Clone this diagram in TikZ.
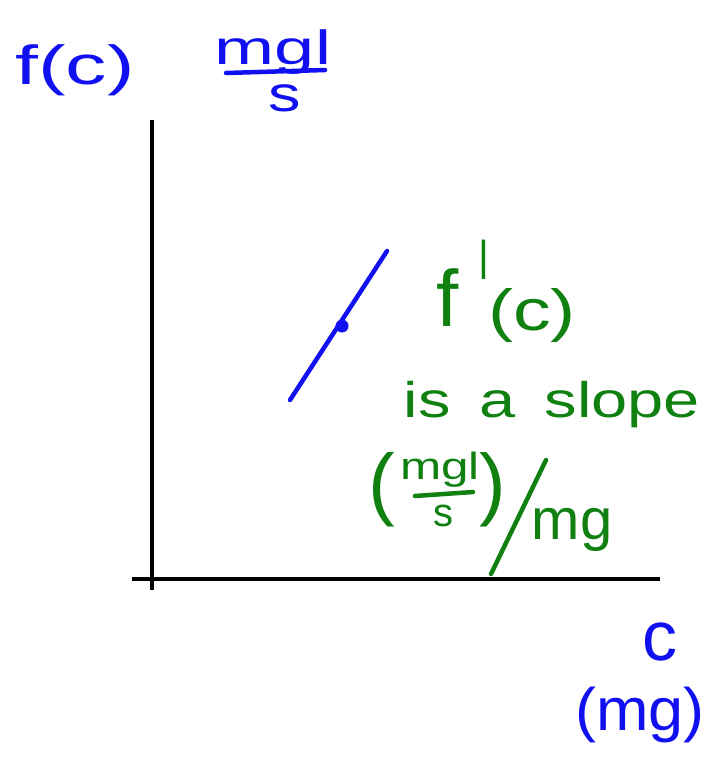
\documentclass[tikz,border=0pt]{standalone}
\usepackage{fontspec}
\setmainfont{Liberation Sans}
\definecolor{inkblue}{RGB}{16,16,240}
\definecolor{inkgreen}{RGB}{16,128,16}
\tikzset{
  axis/.style={draw=black, line width=3.5pt},
  bluetxt/.style={text=inkblue, inner sep=0pt},
  greentxt/.style={text=inkgreen, inner sep=0pt},
  bluestroke/.style={draw=inkblue, line width=4.5pt, line cap=round},
  greenstroke/.style={draw=inkgreen, line width=4.5pt, line cap=round},
}
\newcommand{\fs}[1]{\fontsize{#1}{#1}\selectfont}
\begin{document}
\begin{tikzpicture}[x=1pt,y=-1pt]
\useasboundingbox (0,0) rectangle (709,765);
% axes
\coordinate (ytop) at (152,120);
\coordinate (ybot) at (152,590);
\coordinate (xl) at (132,579);
\coordinate (xr) at (660,579);
\draw[axis] (ybot) -- (ytop);
\draw[axis] (xl) -- (xr);
% axis labels (blue)
\node[bluetxt] (fc) at (75,70) {\fs{55}\scalebox{1.5}[1]{f(c)}};
\node[bluetxt] (num) at (273,52) {\fs{48}\scalebox{1.5}[1]{mgl}};
\coordinate (barl) at (226,73);
\coordinate (barr) at (325,70);
\draw[bluestroke] (barl) -- (barr);
\node[bluetxt] (den) at (285,98) {\fs{50}\scalebox{1.3}[1]{s}};
\node[bluetxt] (cx) at (660,642) {\fs{70}c};
\node[bluetxt] (mgx) at (640,715) {\fs{60}\scalebox{1.05}[1]{(mg)}};
% tangent line with point
\coordinate (tl) at (290,400);
\coordinate (tr) at (387,251);
\draw[bluestroke] (tl) -- (tr);
\node[circle, fill=inkblue, inner sep=0pt, minimum size=13pt] (pt) at (342,326) {};
% green text
\node[greentxt] (f) at (448,298) {\fs{80}f};
\node[greentxt] (prime) at (484,260) {\fs{42}|};
\node[greentxt] (cc) at (532,315) {\fs{58}\scalebox{1.3}[1]{(c)}};
\node[greentxt] (slope) at (552,405) {\fs{50}\scalebox{1.3}[1]{is\, a\, slope}};
\node[greentxt] (lp) at (382,490) {\fs{80}(};
\node[greentxt] (gnum) at (440,470) {\fs{38}\scalebox{1.3}[1]{mgl}};
\coordinate (gbarl) at (415,496);
\coordinate (gbarr) at (473,492);
\draw[greenstroke] (gbarl) -- (gbarr);
\node[greentxt] (gden) at (443,516) {\fs{40}s};
\node[greentxt] (rp) at (493,490) {\fs{80})};
\coordinate (sl1) at (491,574);
\coordinate (sl2) at (546,460);
\draw[greenstroke] (sl1) -- (sl2);
\node[greentxt] (gmg) at (572,530) {\fs{58}mg};
\end{tikzpicture}
\end{document}
